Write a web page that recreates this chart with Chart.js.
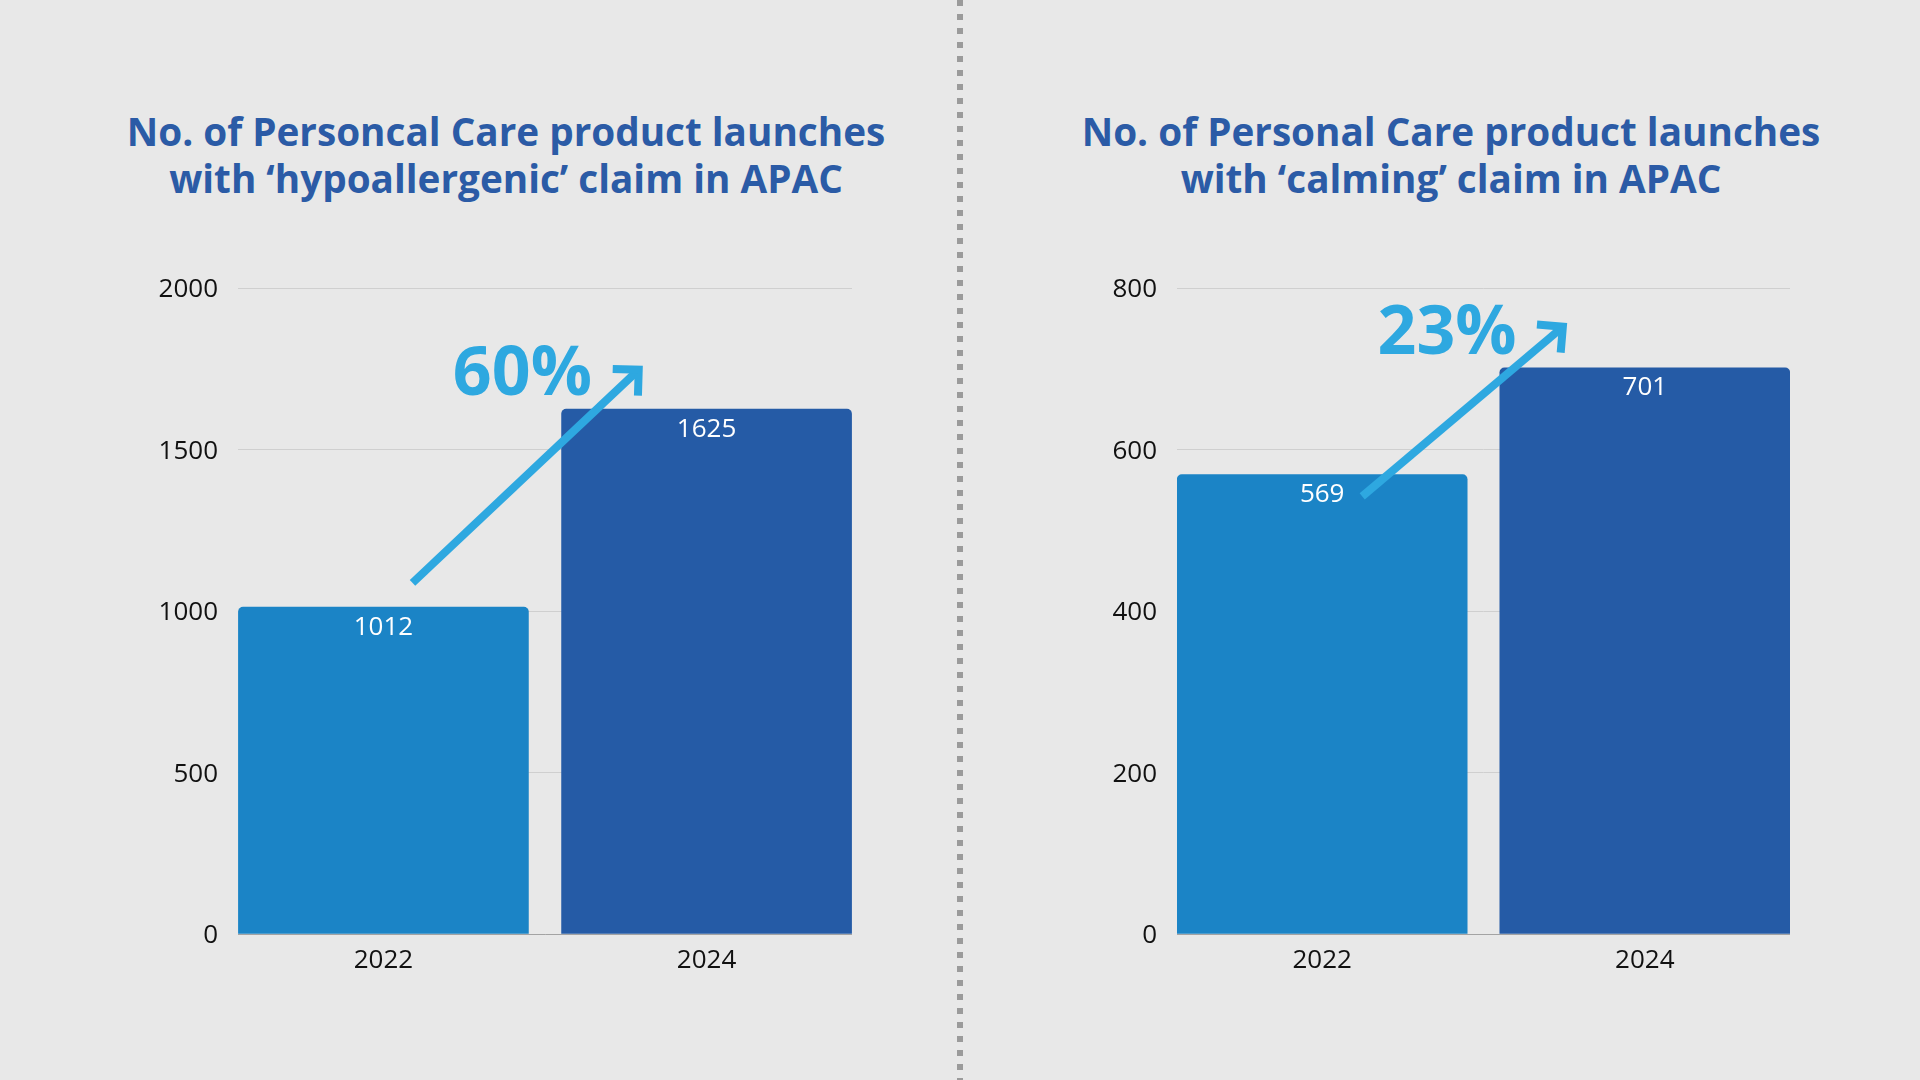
<!DOCTYPE html>
<html>
<head>
<meta charset="utf-8">
<script src="https://cdn.jsdelivr.net/npm/chart.js@4.4.1/dist/chart.umd.min.js"></script>
<style>
body { margin: 0; width: 1920px; height: 1080px; background: #e8e8e8; position: relative; overflow: hidden; font-family: 'Open Sans', sans-serif; }
.title { position: absolute; top: 108px; width: 900px; text-align: center; color: #2b5ba6; font-weight: 700; font-size: 38.7px; line-height: 46.5px; }
.divider { position: absolute; left: 957px; top: 0; width: 6px; height: 1080px;
  background: repeating-linear-gradient(to bottom, #9b9b9b 0 6px, transparent 6px 14px); }
.box { position: absolute; top: 250px; height: 750px; }
</style>
</head>
<body>
<div class="title" style="left:56px">No. of Personcal Care product launches<br>with ‘hypoallergenic’ claim in APAC</div>
<div class="title" style="left:1001px">No. of Personal Care product launches<br>with ‘calming’ claim in APAC</div>
<div class="divider"></div>
<div class="box" style="left:120px; width:732px"><canvas id="hypoChart"></canvas></div>
<div class="box" style="left:1059px; width:731px"><canvas id="calmChart"></canvas></div>
<script>
const years = ['2022', '2024'];
const hypoValues = [1012, 1625];
const calmValues = [569, 701];
const barColors = ['#1b84c6', '#255ba6'];
const hypoMax = 2000, hypoStep = 500;
const calmMax = 800, calmStep = 200;
const growth = ['60%', '23%'];

// arrow and growth label positions in data units: [year index, value]
const hypoArrow = { from: [0.09, 1087], to: [0.79, 1747], text: [0.43, 1670] };
const calmArrow = { from: [0.124, 542], to: [0.746, 752], text: [0.387, 718] };

Chart.defaults.font.family = "'Open Sans', sans-serif";

// draws value labels inside bars, plus the growth arrow and percentage
const growthArrow = {
    id: 'growthArrow',
    afterDatasetsDraw(chart, args, opts) {
        const { ctx, scales: { x, y } } = chart;
        ctx.save();

        // value labels
        ctx.fillStyle = '#ffffff';
        ctx.font = "26px 'Open Sans'";
        ctx.textAlign = 'center';
        ctx.textBaseline = 'middle';
        const ds = chart.data.datasets[0];
        chart.getDatasetMeta(0).data.forEach((bar, i) => {
            ctx.fillText(ds.data[i].y, bar.x, bar.y + 20);
        });

        // arrow
        const x1 = x.getPixelForValue(opts.from[0]), y1 = y.getPixelForValue(opts.from[1]);
        const x2 = x.getPixelForValue(opts.to[0]), y2 = y.getPixelForValue(opts.to[1]);
        const ang = Math.atan2(y2 - y1, x2 - x1);
        ctx.strokeStyle = '#2ea8e0';
        ctx.lineWidth = 8;
        ctx.lineCap = 'butt';
        ctx.beginPath();
        ctx.moveTo(x1, y1);
        ctx.lineTo(x2 - 3 * Math.cos(ang), y2 - 3 * Math.sin(ang));
        ctx.stroke();
        const arm = 26;
        ctx.lineJoin = 'miter';
        ctx.beginPath();
        ctx.moveTo(x2 + arm * Math.cos(ang + Math.PI * 0.75), y2 + arm * Math.sin(ang + Math.PI * 0.75));
        ctx.lineTo(x2, y2);
        ctx.lineTo(x2 + arm * Math.cos(ang - Math.PI * 0.75), y2 + arm * Math.sin(ang - Math.PI * 0.75));
        ctx.stroke();

        // growth percentage
        ctx.fillStyle = '#2ea8e0';
        ctx.font = "bold 68px 'Open Sans'";
        ctx.textBaseline = 'alphabetic';
        ctx.fillText(opts.label, x.getPixelForValue(opts.text[0]), y.getPixelForValue(opts.text[1]));
        ctx.restore();
    }
};

function makeChart(id, values, max, step, arrow, label) {
    return new Chart(document.getElementById(id).getContext('2d'), {
        type: 'bar',
        data: {
            datasets: [{
                data: values.map((v, i) => ({ x: i, y: v })),
                backgroundColor: barColors,
                barThickness: 290,
                borderRadius: 5
            }]
        },
        options: {
            responsive: true,
            maintainAspectRatio: false,
            animation: false,
            layout: { padding: { top: 38, right: 0, left: 0, bottom: 0 } },
            plugins: {
                legend: { display: false },
                tooltip: { enabled: false },
                growthArrow: { from: arrow.from, to: arrow.to, text: arrow.text, label: label }
            },
            scales: {
                x: {
                    type: 'linear',
                    min: -0.45,
                    max: 1.45,
                    offset: false,
                    bounds: 'data',
                    afterBuildTicks: (s) => { s.ticks = years.map((_, i) => ({ value: i })); },
                    afterFit: (s) => { s.height = 66; },
                    grid: { display: false, offset: false },
                    border: { display: true, color: '#a3a3a3', width: 1 },
                    ticks: {
                        callback: (v) => years[v],
                        color: '#111111',
                        font: { size: 26 },
                        padding: 3,
                        maxRotation: 0
                    }
                },
                y: {
                    min: 0,
                    max: max,
                    afterFit: (s) => { s.width = 118; },
                    grid: { color: '#cfcfcf', drawTicks: false },
                    border: { display: false },
                    ticks: {
                        stepSize: step,
                        callback: (v) => String(v),
                        color: '#111111',
                        font: { size: 26 },
                        padding: 20,
                        labelOffset: 2
                    }
                }
            }
        },
        plugins: [growthArrow]
    });
}

makeChart('hypoChart', hypoValues, hypoMax, hypoStep, hypoArrow, growth[0]);
makeChart('calmChart', calmValues, calmMax, calmStep, calmArrow, growth[1]);
</script>
</body>
</html>
